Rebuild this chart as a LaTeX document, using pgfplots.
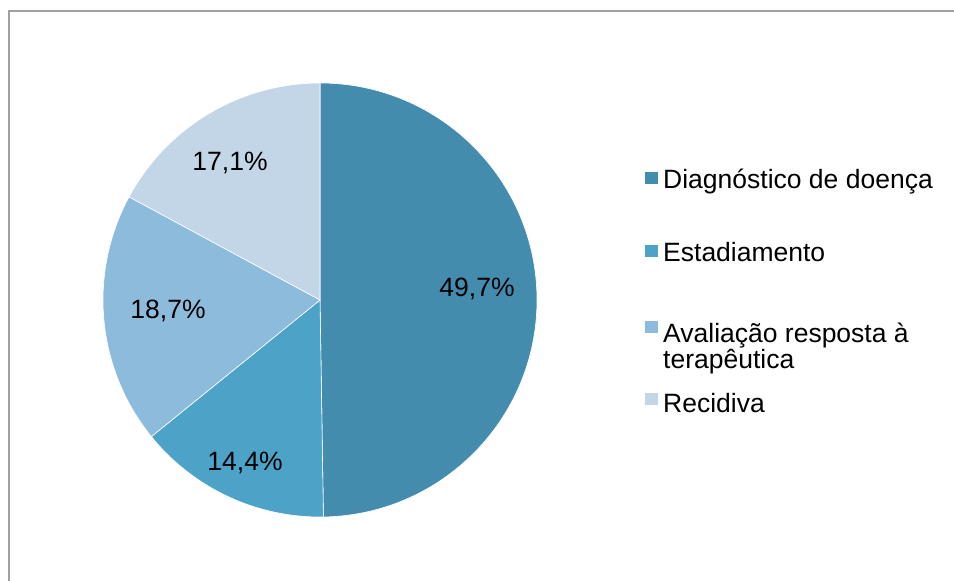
\documentclass[border=0pt]{standalone}
\usepackage{pgfplots}
\pgfplotsset{compat=1.18}
\usepackage{pgfplotstable}
\usepackage{fontspec}
\setmainfont{Liberation Sans}
\definecolor{cA}{HTML}{438CAE}
\definecolor{cB}{HTML}{4DA2C7}
\definecolor{cC}{HTML}{8DBBDC}
\definecolor{cD}{HTML}{C2D6E7}
\definecolor{frame}{HTML}{A0A0A0}
% share of each category (percent), clockwise from 12 o'clock
\pgfplotstableread{
value
49.7
14.4
18.7
17.1
}\piedata
\pgfplotstablegetelem{0}{value}\of\piedata\let\vA\pgfplotsretval
\pgfplotstablegetelem{1}{value}\of\piedata\let\vB\pgfplotsretval
\pgfplotstablegetelem{2}{value}\of\piedata\let\vC\pgfplotsretval
\pgfplotstablegetelem{3}{value}\of\piedata\let\vD\pgfplotsretval
\pgfmathsetmacro\tot{\vA+\vB+\vC+\vD}
\pgfmathsetmacro\aA{90}
\pgfmathsetmacro\aB{90-(\vA/\tot)*360}
\pgfmathsetmacro\aC{90-((\vA+\vB)/\tot)*360}
\pgfmathsetmacro\aD{90-((\vA+\vB+\vC)/\tot)*360}
\pgfmathsetmacro\aE{-270}
\begin{document}
\fontsize{26.5bp}{31bp}\selectfont
\begin{tikzpicture}
\begin{axis}[name=ax, scale only axis, width=954bp, height=581bp,
  xmin=0, xmax=954, ymin=0, ymax=581, hide axis, clip=false]
% frame
\draw[frame, line width=2bp] (axis cs:9,0) -- (axis cs:9,570) -- (axis cs:954,570);
% slices
\def\cx{320}\def\cy{281}\def\R{217bp}
\filldraw[fill=cA, draw=white, line width=0.6bp] (axis cs:\cx,\cy) -- ([shift={(\aA:\R)}]axis cs:\cx,\cy) arc[start angle=\aA, end angle=\aB, radius=\R] -- cycle;
\filldraw[fill=cB, draw=white, line width=0.6bp] (axis cs:\cx,\cy) -- ([shift={(\aB:\R)}]axis cs:\cx,\cy) arc[start angle=\aB, end angle=\aC, radius=\R] -- cycle;
\filldraw[fill=cC, draw=white, line width=0.6bp] (axis cs:\cx,\cy) -- ([shift={(\aC:\R)}]axis cs:\cx,\cy) arc[start angle=\aC, end angle=\aD, radius=\R] -- cycle;
\filldraw[fill=cD, draw=white, line width=0.6bp] (axis cs:\cx,\cy) -- ([shift={(\aD:\R)}]axis cs:\cx,\cy) arc[start angle=\aD, end angle=\aE, radius=\R] -- cycle;
% slice labels
\node[anchor=base, inner sep=0pt] at (axis cs:477,284) {49,7\%};
\node[anchor=base, inner sep=0pt] at (axis cs:245,110) {14,4\%};
\node[anchor=base, inner sep=0pt] at (axis cs:168,262) {18,7\%};
\node[anchor=base, inner sep=0pt] at (axis cs:230,410) {17,1\%};
% legend
\fill[cA] (axis cs:645,409) rectangle (axis cs:657.5,396.5);
\node[anchor=base west, inner sep=0pt] at (axis cs:663,392) {Diagnóstico de doença};
\fill[cB] (axis cs:645,336) rectangle (axis cs:657.5,323.5);
\node[anchor=base west, inner sep=0pt] at (axis cs:663,319) {Estadiamento};
\fill[cC] (axis cs:645,260) rectangle (axis cs:657.5,247.5);
\node[anchor=base west, inner sep=0pt] at (axis cs:663,238) {Avaliação resposta à};
\node[anchor=base west, inner sep=0pt] at (axis cs:663,212) {terapêutica};
\fill[cD] (axis cs:645,188) rectangle (axis cs:657.5,175.5);
\node[anchor=base west, inner sep=0pt] at (axis cs:663,168) {Recidiva};
\end{axis}
\pgfresetboundingbox
\useasboundingbox (ax.south west) rectangle (ax.north east);
\end{tikzpicture}
\end{document}
